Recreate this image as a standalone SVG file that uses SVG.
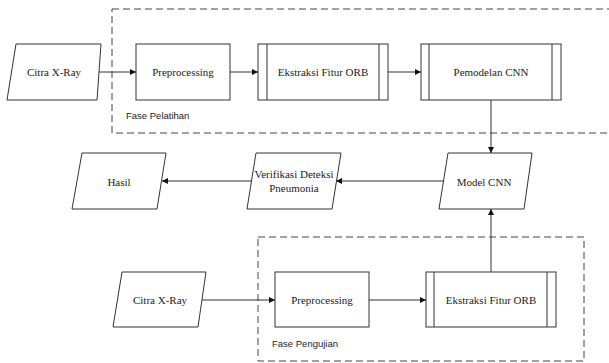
<svg xmlns="http://www.w3.org/2000/svg" width="609" height="363" viewBox="0 0 609 363">
<style>
.s{fill:#fff;stroke:#333;stroke-width:1}
.d{fill:none;stroke:#444;stroke-width:1;stroke-dasharray:7 4}
.t{font-family:"Liberation Serif","Times New Roman",serif;font-size:11px;fill:#222;text-anchor:middle}
.l{font-family:"Liberation Sans",Arial,sans-serif;font-size:9.5px;fill:#222}
.c{fill:none;stroke:#333;stroke-width:1}
</style>
<defs>
<marker id="a" viewBox="0 0 10 10" refX="10" refY="5" markerWidth="6" markerHeight="6" markerUnits="userSpaceOnUse" orient="auto">
<path d="M0,0 L10,5 L0,10 Z" fill="#111"/>
</marker>
</defs>
<rect x="0" y="0" width="609" height="363" fill="#fff"/>
<g id="fase-pelatihan">
<rect class="d" x="112" y="9" width="510" height="124"/>
<text class="l" x="126" y="119">Fase Pelatihan</text>
</g>
<g id="fase-pengujian">
<rect class="d" x="258" y="237" width="326" height="124"/>
<text class="l" x="272" y="347">Fase Pengujian</text>
</g>
<g id="citra1">
<polygon class="s" points="16,44 101,44 97,100 7,100"/>
<text class="t" x="54" y="76">Citra X-Ray</text>
</g>
<g id="pre1">
<rect class="s" x="136" y="44" width="94" height="56"/>
<text class="t" x="183" y="76">Preprocessing</text>
</g>
<g id="orb1">
<rect class="s" x="258" y="44" width="130" height="56"/>
<line class="c" x1="267" y1="44" x2="267" y2="100"/>
<line class="c" x1="379" y1="44" x2="379" y2="100"/>
<text class="t" x="323" y="76">Ekstraksi Fitur ORB</text>
</g>
<g id="pemodelan">
<rect class="s" x="421" y="44" width="140" height="56"/>
<line class="c" x1="429" y1="44" x2="429" y2="100"/>
<line class="c" x1="552" y1="44" x2="552" y2="100"/>
<text class="t" x="491" y="76">Pemodelan CNN</text>
</g>
<g id="model">
<polygon class="s" points="448,153 532,153 524,209 439,209"/>
<text class="t" x="484" y="186">Model CNN</text>
</g>
<g id="verifikasi">
<polygon class="s" points="256,153 341,153 332,209 247,209"/>
<text class="t" x="294" y="178">Verifikasi Deteksi</text>
<text class="t" x="294" y="192">Pneumonia</text>
</g>
<g id="hasil">
<polygon class="s" points="82,153 166,153 157,209 72,209"/>
<text class="t" x="119" y="186">Hasil</text>
</g>
<g id="citra2">
<polygon class="s" points="122,272 206,272 198,327 113,327"/>
<text class="t" x="160" y="304">Citra X-Ray</text>
</g>
<g id="pre2">
<rect class="s" x="275" y="272" width="94" height="55"/>
<text class="t" x="322" y="304">Preprocessing</text>
</g>
<g id="orb2">
<rect class="s" x="426" y="272" width="130" height="55"/>
<line class="c" x1="434" y1="272" x2="434" y2="327"/>
<line class="c" x1="547" y1="272" x2="547" y2="327"/>
<text class="t" x="491" y="304">Ekstraksi Fitur ORB</text>
</g>
<g id="connectors">
<line class="c" x1="99" y1="72" x2="136" y2="72" marker-end="url(#a)"/>
<line class="c" x1="230" y1="72" x2="258" y2="72" marker-end="url(#a)"/>
<line class="c" x1="388" y1="72" x2="421" y2="72" marker-end="url(#a)"/>
<line class="c" x1="491" y1="100" x2="491" y2="153" marker-end="url(#a)"/>
<line class="c" x1="444" y1="181" x2="336" y2="181" marker-end="url(#a)"/>
<line class="c" x1="251" y1="181" x2="162" y2="181" marker-end="url(#a)"/>
<line class="c" x1="202" y1="300" x2="275" y2="300" marker-end="url(#a)"/>
<line class="c" x1="369" y1="300" x2="426" y2="300" marker-end="url(#a)"/>
<line class="c" x1="491" y1="272" x2="491" y2="209" marker-end="url(#a)"/>
</g>
</svg>
